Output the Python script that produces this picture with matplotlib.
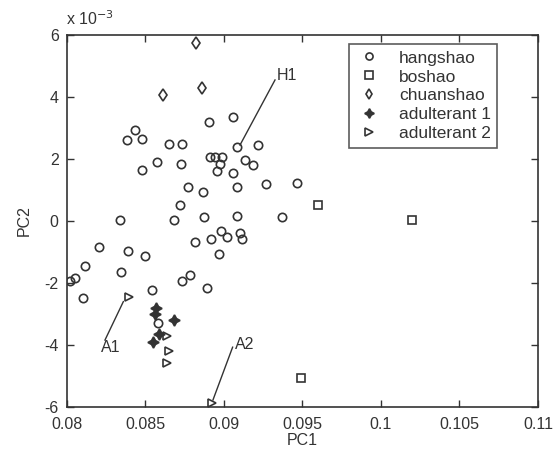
import matplotlib
matplotlib.use('Agg')
import matplotlib.pyplot as plt

plt.rcParams['font.family'] = ['Liberation Sans', 'DejaVu Sans']
plt.rcParams['axes.unicode_minus'] = False

# PC2 values are in units of 1e-3
hangshao_pc1 = [0.08906, 0.09055, 0.08435, 0.08380, 0.08476, 0.08650, 0.08732, 0.09085,
                0.09218, 0.08576, 0.08726, 0.08476, 0.08911, 0.08943, 0.08985, 0.08974,
                0.08953, 0.09134, 0.09188, 0.09055, 0.08773, 0.08864, 0.09085, 0.09266,
                0.09463, 0.08720, 0.08338, 0.08683, 0.08874, 0.09080, 0.09369, 0.08206,
                0.08387, 0.08497, 0.08813, 0.08919, 0.08981, 0.09017, 0.09102, 0.09113,
                0.08966, 0.08115, 0.08344, 0.08051, 0.08019, 0.08731, 0.08783, 0.08890,
                0.08100, 0.08543, 0.08578]
hangshao_pc2 = [3.20, 3.36, 2.94, 2.61, 2.64, 2.48, 2.48, 2.40,
                2.45, 1.90, 1.84, 1.66, 2.07, 2.05, 2.05, 1.85,
                1.62, 1.98, 1.81, 1.55, 1.11, 0.95, 1.11, 1.18,
                1.24, 0.52, 0.03, 0.03, 0.12, 0.16, 0.13, -0.84,
                -0.98, -1.13, -0.69, -0.59, -0.33, -0.53, -0.40, -0.59,
                -1.07, -1.44, -1.64, -1.85, -1.94, -1.93, -1.75, -2.17,
                -2.47, -2.24, -3.29]

boshao_pc1 = [0.09597, 0.10199, 0.09492]
boshao_pc2 = [0.52, 0.02, -5.05]

chuanshao_pc1 = [0.08822, 0.08610, 0.08858]
chuanshao_pc2 = [5.73, 4.06, 4.28]

adult1_pc1 = [0.08567, 0.08560, 0.08681, 0.08588, 0.08550]
adult1_pc2 = [-2.81, -3.00, -3.18, -3.63, -3.90]

adult2_pc1 = [0.08397, 0.08639, 0.08650, 0.08635, 0.08922]
adult2_pc2 = [-2.44, -3.71, -4.19, -4.59, -5.88]

xticks = [0.08, 0.085, 0.09, 0.095, 0.1, 0.105, 0.11]
xticklabels = ['0.08', '0.085', '0.09', '0.095', '0.1', '0.105', '0.11']
yticks = [-6, -4, -2, 0, 2, 4, 6]

ink = '#333333'
fs = 11.5

fig = plt.figure(figsize=(5.6, 4.53), dpi=100)
ax = fig.add_axes([0.1196, 0.1015, 0.8411, 0.8212])

mk = dict(linestyle='none', markeredgecolor=ink, markeredgewidth=1.2)
ax.plot(hangshao_pc1, hangshao_pc2, 'o', markersize=6, markerfacecolor='none', label='hangshao', **mk)
ax.plot(boshao_pc1, boshao_pc2, 's', markersize=6, markerfacecolor='none', label='boshao', **mk)
ax.plot(chuanshao_pc1, chuanshao_pc2, 'd', markersize=6, markerfacecolor='none', label='chuanshao', **mk)
ax.plot(adult1_pc1, adult1_pc2, marker=(4, 1, 0), markersize=8, markerfacecolor=ink,
        label='adulterant 1', **mk)
ax.plot(adult2_pc1, adult2_pc2, '>', markersize=6, markerfacecolor='none', label='adulterant 2', **mk)

# annotations
ax.plot([0.09102, 0.09325], [2.45, 4.55], color=ink, linewidth=1)
ax.text(0.09337, 4.71, 'H1', fontsize=fs, color=ink, va='center', ha='left')
ax.plot([0.08359, 0.08242], [-2.60, -3.84], color=ink, linewidth=1)
ax.text(0.08215, -4.08, 'A1', fontsize=fs, color=ink, va='center', ha='left')
ax.plot([0.08930, 0.09055], [-5.77, -4.07], color=ink, linewidth=1)
ax.text(0.09070, -3.98, 'A2', fontsize=fs, color=ink, va='center', ha='left')

ax.set_xlim(0.08, 0.11)
ax.set_ylim(-6, 6)
ax.set_xticks(xticks)
ax.set_xticklabels(xticklabels)
ax.set_yticks(yticks)
ax.tick_params(direction='in', top=True, right=True, length=5, width=1,
               labelsize=fs, colors=ink)
ax.tick_params(axis='x', pad=7)
ax.tick_params(axis='y', pad=6)
for s in ax.spines.values():
    s.set_color(ink)
    s.set_linewidth(1.2)

ax.set_xlabel('PC1', fontsize=fs, color=ink, labelpad=1)
ax.set_ylabel('PC2', fontsize=fs, color=ink, labelpad=9)
ax.text(-0.003, 1.02, 'x 10$^{-3}$', transform=ax.transAxes, fontsize=fs, color=ink,
        ha='left', va='bottom')

leg = ax.legend(loc='upper right', bbox_to_anchor=(0.913, 0.975), fontsize=12.5,
                frameon=True, fancybox=False, edgecolor=ink, borderpad=0.35,
                labelspacing=0.22, handletextpad=0.9, handlelength=1.6,
                markerscale=0.85, borderaxespad=0)
leg.get_frame().set_linewidth(1.2)
for t in leg.get_texts():
    t.set_color(ink)

fig.savefig('out.png', dpi=100)
